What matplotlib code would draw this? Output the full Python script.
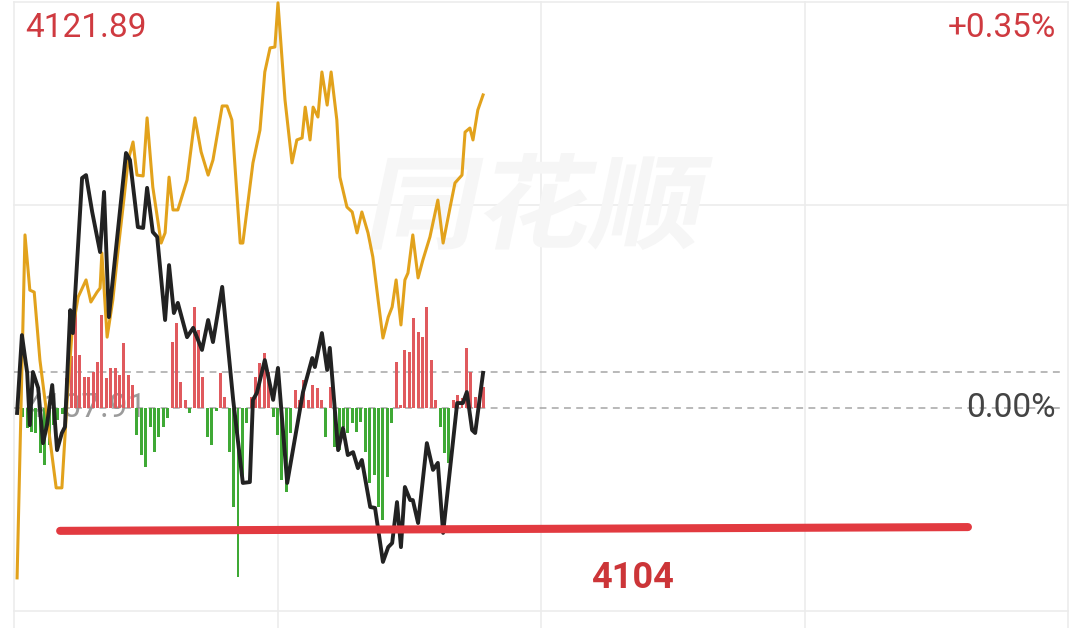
import numpy as np
import matplotlib
matplotlib.use("Agg")
import matplotlib.pyplot as plt
from matplotlib.textpath import TextPath
from matplotlib.patches import PathPatch
from matplotlib.font_manager import FontProperties
from matplotlib.transforms import Affine2D

# --- data ---
PRE_CLOSE = 4107.91
TOP_PRICE = 4121.89
TOP_PCT = "+0.35%"
REF_LEVEL = 4109.15          # upper dashed line
SUPPORT = [4103.68, 4103.81]  # hand drawn red line, left / right end
SUPPORT_MIN = [10.5, 217.2]
SUPPORT_LABEL = "4104"
WATERMARK = "同花顺"

# gold line (minutes from open, price)
gold_min = [0.7, 2.5, 3.6, 4.6, 5.9, 8.2, 9.6, 10.9, 12.1, 13.2, 14.6, 16.4, 17.5, 18.9,
            19.6, 20.0, 21.2, 22.5, 23.7, 25.0, 26.0, 27.1, 28.0, 29.4, 30.3, 31.6, 33.5,
            34.4, 35.3, 36.2, 37.3, 39.4, 41.2, 42.6, 44.2, 45.3, 47.4, 48.5, 49.6, 51.5,
            52.1, 54.4, 56.0, 57.1, 58.3, 59.4, 60.1, 61.7, 63.3, 64.4, 65.6, 66.3, 67.4,
            68.1, 69.2, 70.1, 71.3, 72.2, 73.5, 74.2, 75.8, 77.0, 78.1, 79.2, 80.6, 81.7,
            82.9, 84.0, 85.2, 86.1, 87.0, 88.1, 89.0, 89.7, 90.8, 92.0, 93.1, 94.7, 96.5,
            97.7, 99.3, 100.4, 102.0, 102.7, 103.8, 104.5, 105.6, 106.8]
gold_px = [4102.06, 4113.87, 4111.97, 4111.90, 4109.56, 4106.81, 4105.16, 4105.16, 4108.19,
           4110.49, 4111.73, 4112.32, 4111.56, 4111.90, 4112.04, 4113.25, 4110.35, 4111.63,
           4113.35, 4115.07, 4116.45, 4117.07, 4115.93, 4115.90, 4117.90, 4115.52, 4113.59,
           4113.94, 4115.86, 4114.73, 4114.73, 4115.76, 4117.90, 4116.73, 4115.93, 4116.45,
           4118.31, 4118.31, 4117.83, 4113.59, 4113.59, 4116.35, 4117.48, 4119.48, 4120.31,
           4120.34, 4121.86, 4118.52, 4116.35, 4117.14, 4117.21, 4118.27, 4117.14, 4118.27,
           4117.93, 4119.48, 4118.34, 4119.48, 4117.83, 4115.86, 4114.83, 4114.66, 4113.94,
           4114.66, 4113.94, 4113.11, 4111.63, 4110.32, 4111.04, 4111.39, 4112.32, 4110.77,
           4112.32, 4112.56, 4113.87, 4112.39, 4113.01, 4113.80, 4115.07, 4113.59, 4114.83,
           4115.66, 4115.93, 4117.41, 4117.55, 4117.14, 4118.17, 4118.69]

# black line
black_min = [0.7, 1.8, 3.0, 3.6, 4.3, 5.5, 6.6, 7.5, 8.7, 9.8, 10.9, 11.6, 12.8, 13.4, 15.5,
             16.4, 17.8, 19.6, 20.5, 21.6, 25.5, 26.4, 28.2, 29.4, 30.3, 31.6, 32.6, 34.4,
             35.3, 36.4, 37.3, 39.4, 40.8, 42.8, 44.2, 45.3, 47.4, 49.9, 52.1, 53.7, 54.4,
             55.3, 57.1, 59.0, 60.1, 62.2, 65.8, 67.9, 68.5, 70.1, 71.3, 71.9, 73.8, 74.9,
             76.0, 77.2, 78.3, 79.2, 81.1, 82.2, 84.0, 85.2, 86.1, 87.2, 88.1, 89.0, 90.2,
             90.8, 92.0, 94.0, 95.4, 96.5, 97.7, 100.9, 102.2, 103.1, 104.3, 105.0, 106.8]
black_px = [4107.74, 4110.42, 4109.12, 4107.32, 4109.15, 4108.60, 4106.70, 4107.32, 4108.70,
            4106.46, 4107.05, 4107.26, 4111.28, 4110.49, 4115.83, 4115.93, 4114.66, 4113.28,
            4115.35, 4111.04, 4116.69, 4116.45, 4114.14, 4114.11, 4115.49, 4113.97, 4113.80,
            4110.94, 4112.83, 4111.18, 4111.53, 4110.35, 4110.67, 4109.91, 4110.94, 4110.18,
            4112.08, 4108.19, 4105.33, 4105.36, 4108.19, 4108.43, 4109.56, 4108.19, 4109.29,
            4105.33, 4108.46, 4109.63, 4109.32, 4110.49, 4109.22, 4109.98, 4106.46, 4107.22,
            4106.29, 4106.39, 4105.84, 4106.12, 4104.50, 4104.47, 4102.61, 4103.12, 4103.26,
            4104.67, 4103.12, 4105.19, 4104.74, 4104.74, 4103.95, 4106.70, 4105.78, 4106.02,
            4103.61, 4108.08, 4108.08, 4108.46, 4107.15, 4107.05, 4109.12]

# red / green bars around the pre-close line, one per minute (minutes 2..107)
bar_min = list(range(2, 108))
bar_val = [-0.30, -0.69, -0.83, -0.86, -1.55, -1.96, -1.27, -0.59, -0.41, -0.20,
           1.03, 1.80, 3.27, 1.82, 1.07, 1.07, 1.24, 1.58, 3.20, 1.03,
           1.38, 1.38, 1.14, 2.24, 1.14, 0.80, -0.93, -1.62, -2.03, -0.65,
           -1.52, -1.00, -0.65, -0.34, 2.27, 2.93, 0.90, 0.28, -0.17, 3.48,
           2.69, 1.07, -1.00, -1.27, -0.10, 1.21, 0.38, -1.52, -3.41, -5.82,
           -2.58, -0.50, 0.38, 1.07, 1.55, 1.89, 1.24, -0.31, -0.93, -2.48,
           -2.89, -0.86, 0.62, 0.28, 0.96, 0.28, 0.79, 0.69, 0.28, -1.00,
           0.72, -1.34, -1.45, -0.65, -0.86, -0.52, -0.83, -0.48, -1.52, -2.58,
           -2.31, -3.41, -3.86, -2.38, -0.52, 1.58, 0.10, 2.00, 1.93, 3.10,
           2.62, 2.44, 3.48, 1.65, 0.28, -0.65, -1.55, -1.89, 0.28, 0.45,
           0.34, 2.07, 1.24, 0.38, 0.28, 0.72]

RED = "#cf3a40"
UP_BAR = "#e05a5e"
DOWN_BAR = "#3fa935"
GOLD = "#e2a21c"
GRID = "#ececec"

fig = plt.figure(figsize=(10.8, 6.28), dpi=100)
ax = fig.add_axes([0, 0, 1, 1])
ax.set_xlim(-3.19, 242.71)
ax.set_ylim(4100.335, 4121.959)
ax.axis("off")

step = TOP_PRICE - PRE_CLOSE
half = step / 2
# grid
for m in [0, 60, 120, 180, 240]:
    ax.plot([m, m], [4100.0, TOP_PRICE], color=GRID, lw=1.2, zorder=0)
for lvl in [TOP_PRICE, PRE_CLOSE + half, PRE_CLOSE - half]:
    ax.plot([0, 240], [lvl, lvl], color=GRID, lw=1.2, zorder=0)

# watermark
tp = TextPath((0, 0), WATERMARK, size=100,
              prop=FontProperties(family="Noto Sans CJK SC", weight="bold"))
ext = tp.get_extents()
sx = 325 / ext.width
sy = 97 / ext.height
tr = (Affine2D().translate(-ext.x0, -ext.y0).scale(sx, sy)
      .skew_deg(12, 0).translate(368, 628 - 250))
ax.add_patch(PathPatch(tp, transform=tr, fc="#f6f6f6", ec="none", zorder=0.5))

# dashed lines
ax.plot([0, 238.5], [REF_LEVEL, REF_LEVEL], color="#a5a5a5", lw=1.1,
        ls=(0, (4.5, 3.5)), zorder=1)
ax.plot([0, 238.5], [PRE_CLOSE, PRE_CLOSE], color="#a5a5a5", lw=1.1,
        ls=(0, (4.5, 3.5)), zorder=1)

# pre-close label under the lines
ax.text(2.5, PRE_CLOSE, f"{PRE_CLOSE:.2f}", color="#909090", alpha=0.9,
        fontsize=24, family="Roboto", va="center", ha="left", zorder=1.5)

# bars
colors = [UP_BAR if v > 0 else DOWN_BAR for v in bar_val]
ax.bar(bar_min, bar_val, bottom=PRE_CLOSE, width=0.68, color=colors, zorder=2)

# lines
ax.plot(gold_min, gold_px, color=GOLD, lw=2.2, solid_joinstyle="round", zorder=3)
ax.plot(black_min, black_px, color="#222222", lw=2.8, solid_joinstyle="round", zorder=4)

# support line
ax.plot(SUPPORT_MIN, SUPPORT, color="#e23a40", lw=5.8, solid_capstyle="round", zorder=5)
ax.text(140.7, 4102.06, SUPPORT_LABEL, color="#cc3538", fontsize=26, family="Roboto",
        fontweight="bold", ha="center", va="center", zorder=6)

# labels
ax.text(2.5, 4121.0, f"{TOP_PRICE:.2f}", color=RED, fontsize=24, family="Roboto",
        ha="left", va="center", zorder=6)
ax.text(237.2, 4121.0, TOP_PCT, color=RED, fontsize=24, family="Roboto",
        ha="right", va="center", zorder=6)
ax.text(237.2, PRE_CLOSE, "0.00%", color="#444444", fontsize=24, family="Roboto",
        ha="right", va="center", zorder=6)

fig.savefig("out.png", dpi=100, facecolor="white")
